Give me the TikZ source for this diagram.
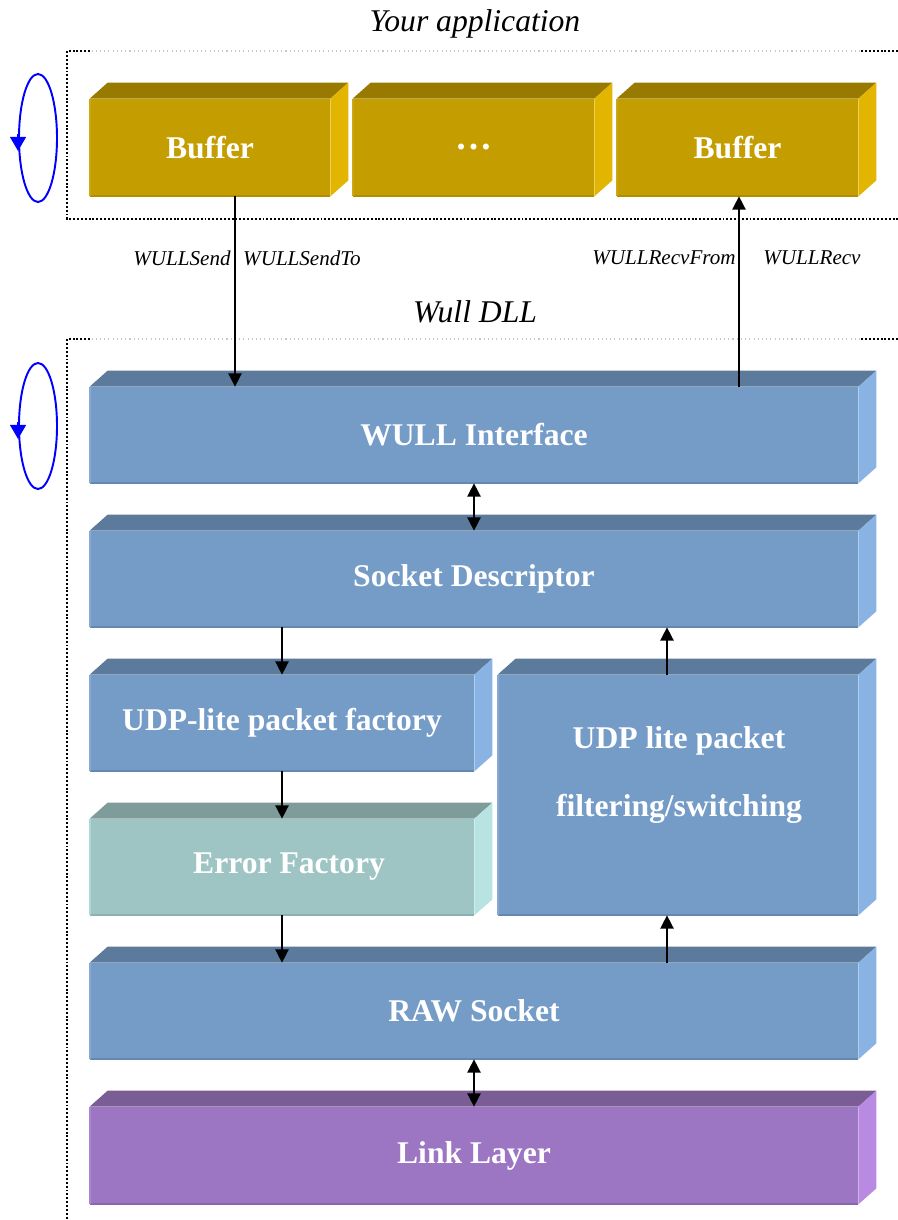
\documentclass[tikz,border=0pt]{standalone}
\usepackage{fontspec}
\setmainfont{Liberation Serif}
\usetikzlibrary{calc,arrows.meta,shapes.geometric}

% palettes: F = front, T = top, S = side, E = bottom edge, L = left edge
\definecolor{goldF}{HTML}{C49E00}
\definecolor{goldT}{HTML}{997A00}
\definecolor{goldS}{HTML}{E2B500}
\definecolor{goldE}{HTML}{B18E00}
\definecolor{goldL}{HTML}{CDA712}
\definecolor{blueF}{HTML}{759CC7}
\definecolor{blueT}{HTML}{5C7A9B}
\definecolor{blueS}{HTML}{88B3E2}
\definecolor{blueE}{HTML}{6687B0}
\definecolor{blueL}{HTML}{86AAD6}
\definecolor{tealF}{HTML}{9EC4C4}
\definecolor{tealT}{HTML}{7E9C9A}
\definecolor{tealS}{HTML}{B7E3E3}
\definecolor{tealE}{HTML}{8DB1B1}
\definecolor{tealL}{HTML}{B0D6D6}
\definecolor{purpF}{HTML}{9C75C3}
\definecolor{purpT}{HTML}{7B5D96}
\definecolor{purpS}{HTML}{B98AE2}
\definecolor{purpE}{HTML}{8A66AE}
\definecolor{purpL}{HTML}{AC86D4}

\tikzset{
  front/.style={fill=#1F, draw=none, inner sep=0pt, text=white,
    font=\bfseries\fontsize{18}{20}\selectfont},
  arr/.style={line width=0.85pt, -{Triangle[length=7.5pt,width=7.5pt]}},
  darr/.style={line width=0.85pt, {Triangle[length=7.5pt,width=7.5pt]}-{Triangle[length=7.5pt,width=7.5pt]}},
  fname/.style={font=\itshape\fontsize{12}{14}\selectfont, inner sep=0pt},
  title/.style={font=\itshape\fontsize{18}{20}\selectfont, inner sep=0pt},
  frame/.style={line width=1.1pt, dash pattern=on 1.1pt off 1.1pt, black},
  framelight/.style={line width=0.6pt, dash pattern=on 0.6pt off 1.8pt, black!22},
  loopring/.style={ellipse, draw=blue, line width=1.1pt, inner sep=0pt},
  looptip/.style={blue, line width=1.1pt, -{Triangle[length=8pt,width=9pt]}},
}

% 3D block: name, left, top, right, bottom, palette, text
\newcommand\blockbox[7]{%
  \node[front=#6, minimum width={(#4-#2)*0.02cm}, minimum height={(#5-#3)*0.02cm}]
    (#1) at ({(#2+#4)/2},{(#3+#5)/2}) {#7};
  \fill[#6T] (#1.north west) -- ++(18,-16) -- ($(#1.north east)+(18,-16)$)
    -- (#1.north east) -- cycle;
  \fill[#6S] (#1.north east) -- ++(18,-16) -- ($(#1.south east)+(18,-16)$)
    -- (#1.south east) -- cycle;
  \draw[#6E, line width=1.2pt] (#1.south west) -- (#1.south east);
  \draw[#6L, line width=1pt] (#1.south west) -- (#1.north west);
}

\begin{document}
\begin{tikzpicture}[x=0.02cm, y=-0.02cm]
\useasboundingbox (0,0) rectangle (898,1220);
\fill[white] (0,0) rectangle (898,1220);

% titles
\node[title] (appTitle) at (475,24) {Your application};
\node[title] (dllTitle) at (475,312) {Wull DLL};

% dotted frames
\draw[frame] (898,51) -- (860,51);
\draw[framelight] (860,51) -- (90,51);
\draw[frame] (90,51) -- (67,51) -- (67,219) -- (898,219);
\draw[frame] (898,339) -- (860,339);
\draw[framelight] (860,339) -- (90,339);
\draw[frame] (90,339) -- (67,339) -- (67,1220);

% loop markers
\node[loopring, minimum width={38*0.02cm}, minimum height={128*0.02cm}] (loopA) at (38,138) {};
\draw[looptip] ($(loopA.west)+(0,-4)$) -- ($(loopA.west)+(0,13)$);
\node[loopring, minimum width={38*0.02cm}, minimum height={126*0.02cm}] (loopB) at (38,426) {};
\draw[looptip] ($(loopB.west)+(0,-4)$) -- ($(loopB.west)+(0,13)$);

% application buffers
\blockbox{bufA}{90}{99}{330}{196}{gold}{Buffer}
\blockbox{bufDots}{353}{99}{594}{196}{gold}{\fontsize{21}{22}\selectfont …}
\blockbox{bufB}{617}{99}{858}{196}{gold}{Buffer}

% DLL layers
\blockbox{wull}{90}{387}{858}{483}{blue}{WULL Interface}
\blockbox{sock}{90}{531}{858}{627}{blue}{Socket Descriptor}
\blockbox{fact}{90}{675}{474}{771}{blue}{UDP-lite packet factory}
\blockbox{filt}{498}{675}{858}{915}{blue}{}
\node[front=blue, fill=none, align=center, font=\bfseries\fontsize{18}{38.6}\selectfont]
  (filtText) at (679,775) {UDP lite packet\\filtering/switching};
\blockbox{err}{90}{819}{474}{915}{teal}{\hspace*{8pt}Error Factory}
\blockbox{raw}{90}{963}{858}{1059}{blue}{RAW Socket}
\blockbox{link}{90}{1107}{858}{1204}{purp}{Link Layer}

% function names
\node[fname] (fSend) at (182,258) {WULLSend};
\node[fname] (fSendTo) at (302,258) {WULLSendTo};
\node[fname] (fRecvFrom) at (664,258) {WULLRecvFrom};
\node[fname] (fRecv) at (812,258) {WULLRecv};

% connectors
\coordinate (sendPt) at ($(bufA.south)+(25,0)$);
\coordinate (recvPt) at ($(bufB.south)+(1.5,0)$);
\coordinate (upPt) at ($(filt.north)+(-11,0)$);
\draw[arr] (sendPt) -- (sendPt |- wull.north);
\draw[arr] (recvPt |- wull.north) -- (recvPt);
\draw[darr] (wull.south) -- (sock.north);
\draw[arr] (sock.south -| fact.north) -- (fact.north);
\draw[arr] (upPt) -- (upPt |- sock.south);
\draw[arr] (fact.south) -- (err.north);
\draw[arr] (err.south) -- (err.south |- raw.north);
\draw[arr] (upPt |- raw.north) -- (upPt |- filt.south);
\draw[darr] (raw.south) -- (link.north);
\end{tikzpicture}
\end{document}
